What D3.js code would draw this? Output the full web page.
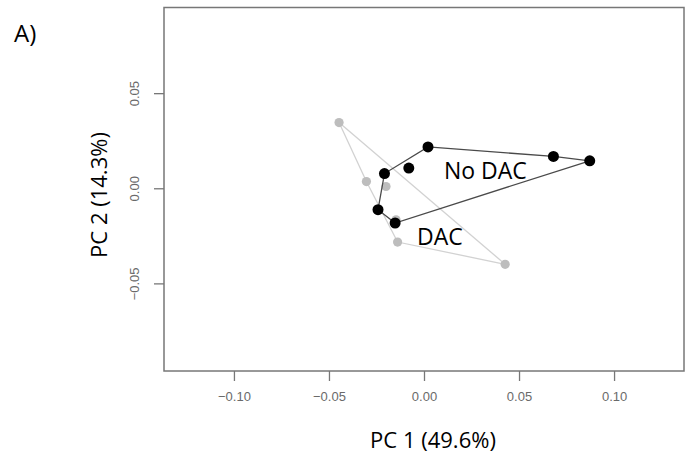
<!DOCTYPE html>
<html>
<head>
<meta charset="utf-8">
<script src="https://cdn.jsdelivr.net/npm/d3@7"></script>
<style>
  body { margin: 0; background: #fff; }
  svg { display: block; }
</style>
</head>
<body>
<script>
// PCA scores
var noDacPC1 = [0.0021, 0.0681, 0.0872, -0.0080, -0.0208, -0.0242, -0.0152];
var noDacPC2 = [0.0220, 0.0170, 0.0147, 0.0109, 0.0080, -0.0110, -0.0180];
var dacPC1 = [-0.0447, -0.0303, -0.0200, -0.0147, -0.0139, 0.0427];
var dacPC2 = [0.0348, 0.0038, 0.0012, -0.0163, -0.0280, -0.0397];

var xTicks = [-0.10, -0.05, 0.00, 0.05, 0.10];
var yTicks = [-0.05, 0.00, 0.05];

var width = 686, height = 461;
var box = { left: 164, top: 7.5, right: 684, bottom: 371 };

var svg = d3.select("body").append("svg")
    .attr("width", width)
    .attr("height", height);

var x = d3.scaleLinear().domain([-0.1368, 0.1368]).range([box.left, box.right]);
var y = d3.scaleLinear().domain([-0.0958, 0.0953]).range([box.bottom, box.top]);

function pts(a, b) { return a.map(function(v, i) { return [v, b[i]]; }); }
var noDac = pts(noDacPC1, noDacPC2);
var dac = pts(dacPC1, dacPC2);

var fmt = function(d) { return d3.format(".2f")(d).replace("-", "\u2212"); };

// axes (R style: ticks outside, labels below / rotated at left)
var xAxis = svg.append("g")
    .attr("transform", "translate(0," + box.bottom + ")")
    .call(d3.axisBottom(x).tickValues(xTicks).tickSize(10).tickPadding(11).tickFormat(fmt));
xAxis.select(".domain").remove();

var yAxis = svg.append("g")
    .attr("transform", "translate(" + box.left + ",0)")
    .call(d3.axisLeft(y).tickValues(yTicks).tickSize(10).tickFormat(fmt));
yAxis.select(".domain").remove();
yAxis.selectAll(".tick").attr("transform", null);
yAxis.selectAll(".tick line")
    .attr("y1", function(d) { return y(d); })
    .attr("y2", function(d) { return y(d); });
yAxis.selectAll(".tick text")
    .attr("x", null).attr("dy", null)
    .attr("transform", function(d) { return "translate(-28," + y(d) + ") rotate(-90)"; })
    .attr("text-anchor", "middle")
    .attr("dominant-baseline", "middle");

svg.selectAll(".tick line").attr("stroke", "#777").attr("stroke-width", 1.3);
svg.selectAll(".tick text")
    .attr("fill", "#6a6a6a")
    .style("font-family", "'Liberation Sans', Arial, sans-serif")
    .style("font-size", "13px");

svg.append("rect")
    .attr("x", box.left).attr("y", box.top)
    .attr("width", box.right - box.left).attr("height", box.bottom - box.top)
    .attr("fill", "none").attr("stroke", "#777").attr("stroke-width", 1.5);

// hulls
var line = d3.line().x(function(d) { return x(d[0]); }).y(function(d) { return y(d[1]); })
    .curve(d3.curveLinearClosed);

svg.append("path")
    .datum(d3.polygonHull(dac))
    .attr("d", line)
    .attr("fill", "none").attr("stroke", "#d2d2d2").attr("stroke-width", 1.3);

svg.selectAll(".dac").data(dac).enter().append("circle")
    .attr("class", "dac")
    .attr("cx", function(d) { return x(d[0]); })
    .attr("cy", function(d) { return y(d[1]); })
    .attr("r", 4.6)
    .attr("fill", "#bdbdbd");

svg.append("path")
    .datum(d3.polygonHull(noDac))
    .attr("d", line)
    .attr("fill", "none").attr("stroke", "#4a4a4a").attr("stroke-width", 1.3);

svg.selectAll(".nodac").data(noDac).enter().append("circle")
    .attr("class", "nodac")
    .attr("cx", function(d) { return x(d[0]); })
    .attr("cy", function(d) { return y(d[1]); })
    .attr("r", 5.5)
    .attr("fill", "#000");

// labels
var font = "'Open Sans', 'Noto Sans', sans-serif";
function label(txt, px, py, size, anchor, rot) {
  var t = svg.append("text")
      .attr("x", px).attr("y", py)
      .attr("text-anchor", anchor || "start")
      .style("font-family", font)
      .style("font-size", size + "px")
      .attr("fill", "#000")
      .text(txt);
  if (rot) t.attr("transform", "rotate(" + rot + "," + px + "," + py + ")");
  return t;
}
label("No DAC", x(0.0105), y(0.0050), 23);
label("DAC", x(-0.0037), y(-0.0297), 23);
label("A)", 14, 42, 24);
label("PC 1 (49.6%)", 433, 448, 22, "middle");
label("PC 2 (14.3%)", 107, 195, 22, "middle", -90);
</script>
</body>
</html>
